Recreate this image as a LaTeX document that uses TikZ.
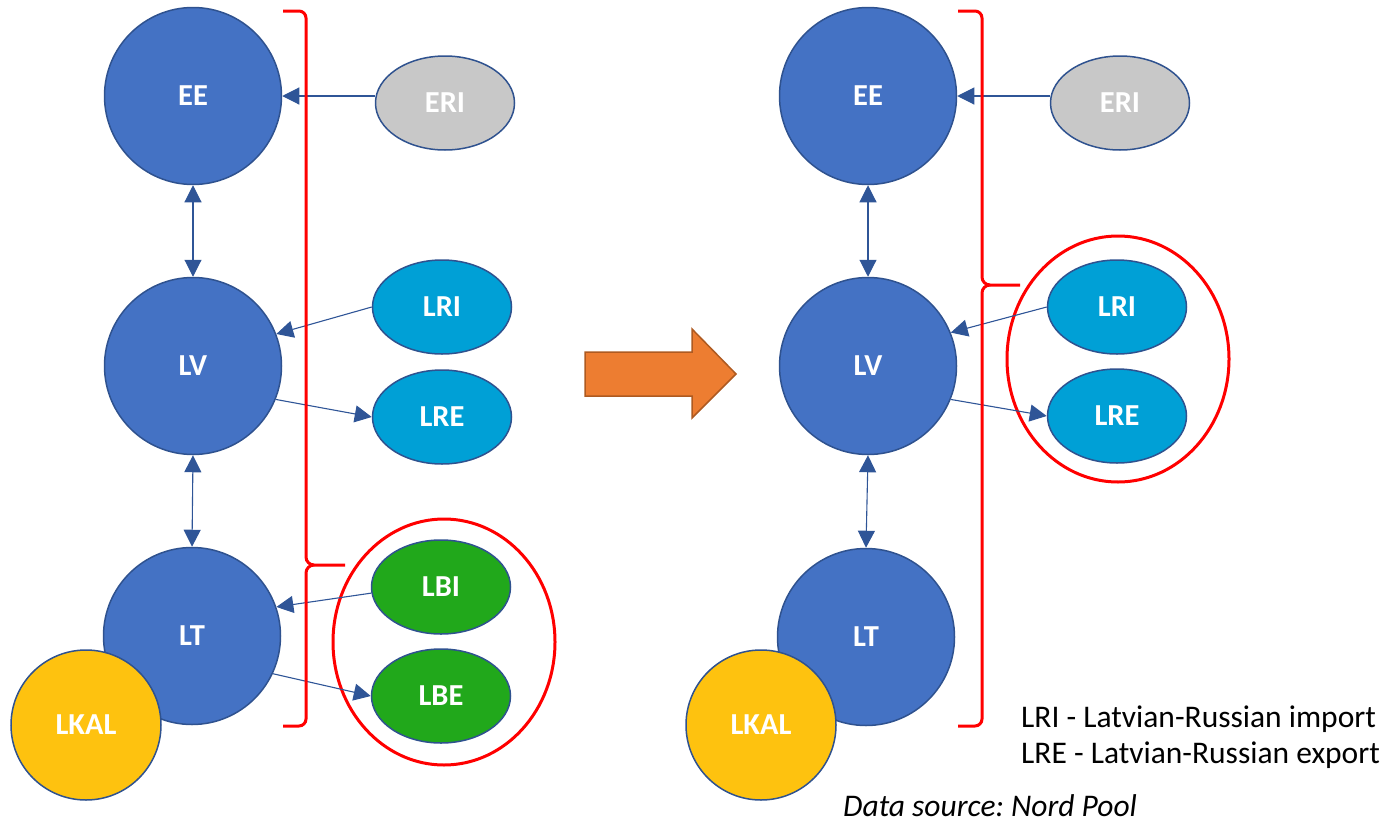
\documentclass[tikz,border=0pt]{standalone}
\usepackage{fontspec}
\setmainfont{Carlito}
\usetikzlibrary{shapes.geometric,arrows.meta}
\definecolor{nodeblue}{RGB}{68,114,196}
\definecolor{edgeblue}{RGB}{47,82,143}
\definecolor{lineblue}{RGB}{47,85,151}
\definecolor{cyanblue}{RGB}{0,160,214}
\definecolor{leafgreen}{RGB}{33,168,27}
\definecolor{erigray}{RGB}{200,200,200}
\definecolor{kalyellow}{RGB}{254,194,15}
\definecolor{arroworange}{RGB}{237,125,49}
\definecolor{arrowedge}{RGB}{174,90,33}
\definecolor{bracketred}{RGB}{255,0,0}
\frenchspacing
\begin{document}
\begin{tikzpicture}[x=1pt,y=-1pt,
 lbl/.style={text=white,font=\fontsize{30.5}{30.5}\selectfont\bfseries},
 bigc/.style={circle,draw=edgeblue,line width=1.5pt,fill=nodeblue,minimum size=177pt,inner sep=0pt,lbl},
 kal/.style={circle,draw=edgeblue,line width=1.5pt,fill=kalyellow,minimum size=150pt,inner sep=0pt,lbl},
 oval/.style={ellipse,draw=edgeblue,line width=1.5pt,minimum width=139pt,minimum height=94pt,inner sep=0pt,lbl},
 group/.style={ellipse,draw=bracketred,line width=3pt,minimum width=222pt,minimum height=246pt,inner sep=0pt},
 brk/.style={draw=bracketred,line width=3pt},
 conn/.style={draw=lineblue,line width=1.1pt,-{Triangle[length=17pt,width=17pt]}},
 conn2/.style={draw=lineblue,line width=1.1pt,{Triangle[length=17pt,width=17pt]}-{Triangle[length=17pt,width=17pt]}},
 legend/.style={font=\fontsize{31.5}{31.5}\selectfont,anchor=base west,inner sep=0pt}]
\useasboundingbox (0,0) rectangle (1387,825);

% ---------- left panel ----------
\node[group] (gl) at (444,642) {};
\node[bigc] (EEl) at (193,96) {EE};
\node[bigc] (LVl) at (193,366) {LV};
\node[bigc] (LTl) at (192,636) {LT};
\node[kal] (KALl) at (86,725) {LKAL};
\node[oval,fill=erigray] (ERIl) at (445,103) {ERI};
\node[oval,fill=cyanblue] (LRIl) at (442,307) {LRI};
\node[oval,fill=cyanblue] (LREl) at (442,417) {LRE};
\node[oval,fill=leafgreen] (LBIl) at (441,587) {LBI};
\node[oval,fill=leafgreen] (LBEl) at (441,696) {LBE};

\draw[conn] (ERIl.west |- EEl.east) -- (EEl.east);
\draw[conn2] (EEl.south) -- (LVl.north);
\draw[conn2] (LVl.south) -- (LTl.north);
\draw[conn] (LRIl.west) -- (LVl.21);
\draw[conn] (LVl.-22) -- (LREl.west);
\draw[conn] (LBIl.185) -- (LTl.19);
\draw[conn] (LTl.-25) -- (LBEl.west);

\draw[brk] (283,11) -- (299,11) to[out=0,in=90] (306,18) -- (306,557)
  to[out=-90,in=180] (314,565) -- (345,565);
\draw[brk] (314,565) to[out=180,in=90] (306,573) -- (306,719)
  to[out=-90,in=0] (299,726) -- (283,726);

% ---------- transition arrow ----------
\draw[fill=arroworange,draw=arrowedge,line width=1.5pt]
  (585,352) -- (692,352) -- (692,329) -- (736,374) -- (692,418) -- (692,396) -- (585,396) -- cycle;

% ---------- right panel ----------
\node[group] (gr) at (1118,359) {};
\node[bigc] (EEr) at (868,96) {EE};
\node[bigc] (LVr) at (868,366) {LV};
\node[bigc] (LTr) at (866,637) {LT};
\node[kal] (KALr) at (761,725) {LKAL};
\node[oval,fill=erigray] (ERIr) at (1120,103) {ERI};
\node[oval,fill=cyanblue] (LRIr) at (1117,307) {LRI};
\node[oval,fill=cyanblue] (LREr) at (1117,416) {LRE};

\draw[conn] (ERIr.west |- EEr.east) -- (EEr.east);
\draw[conn2] (EEr.south) -- (LVr.north);
\draw[conn2] (LVr.south) -- (LTr.north);
\draw[conn] (LRIr.west) -- (LVr.22);
\draw[conn] (LVr.-22) -- (LREr.west);

\draw[brk] (958,11) -- (975,11) to[out=0,in=90] (982,18) -- (982,277)
  to[out=-90,in=180] (990,285) -- (1020,285);
\draw[brk] (990,285) to[out=180,in=90] (982,293) -- (982,719)
  to[out=-90,in=0] (975,726) -- (958,726);

% ---------- legend ----------
\node[legend] (leg1) at (1021,727) {LRI - Latvian-Russian import};
\node[legend] (leg2) at (1021,763) {LRE - Latvian-Russian export};
\node[legend,font=\fontsize{31.5}{31.5}\selectfont\itshape] (src) at (843,816) {Data source: Nord Pool};
\end{tikzpicture}
\end{document}
